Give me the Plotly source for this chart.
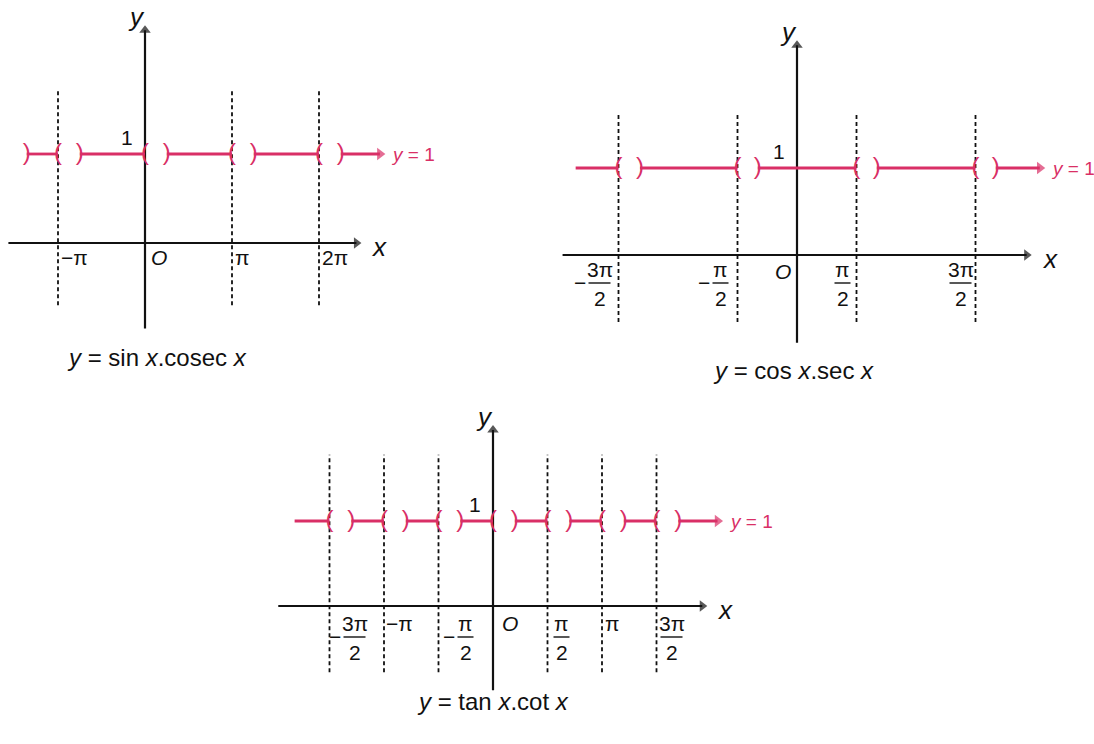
import plotly.graph_objects as go

W, H = 1094, 744
PINK = "#d92f66"
INK = "#111111"
FONT = "Liberation Sans"

# All x values are in multiples of pi.
# ---- y = sin x . cosec x
sin_axis_x = [-1.57, 2.43]
sin_axis_y = [-0.96, 2.39]
sin_asymptotes = [-1, 1, 2]
sin_dash_span = [-0.70, 1.74]
sin_seg_start = [-1.36, -0.75, 0.25, 1.25, 2.25]
sin_seg_end = [-1.0, 0.0, 1.0, 2.0, 2.70]
sin_tick_vals = [-1, 1, 2]
sin_tick_text = ["−π", "π", "2π"]

# ---- y = cos x . sec x
cos_axis_x = [-1.97, 1.93]
cos_axis_y = [-1.01, 2.41]
cos_asymptotes = [-1.5, -0.5, 0.5, 1.5]
cos_dash_span = [-0.77, 1.64]
cos_seg_start = [-1.86, -1.32, -0.33, 0.67, 1.67]
cos_seg_end = [-1.5, -0.5, 0.5, 1.5, 2.04]
cos_tick_vals = [-1.5, -0.5, 0.5, 1.5]
cos_tick_num = ["3π", "π", "π", "3π"]
cos_tick_neg = [True, True, False, False]

# ---- y = tan x . cot x
tan_axis_x = [-1.97, 1.92]
tan_axis_y = [-0.99, 2.07]
tan_asymptotes = [-1.5, -1, -0.5, 0.5, 1, 1.5]
tan_dash_span = [-0.78, 1.78]
tan_seg_start = [-1.82, -1.30, -0.80, -0.30, 0.20, 0.70, 1.20, 1.70]
tan_seg_end = [-1.5, -1.0, -0.5, 0.0, 0.5, 1.0, 1.5, 2.06]
tan_frac_vals = [-1.5, -0.5, 0.5, 1.5]
tan_frac_num = ["3π", "π", "π", "3π"]
tan_frac_neg = [True, True, False, False]
tan_plain_vals = [-1, 1]
tan_plain_text = ["−π", "π"]

curve_value = 1

# panel boxes in pixels (left, top, right, bottom), origin pixel and scale
panels = {
    1: dict(box=(0, 0, 450, 390), origin=(145, 243), sx=87, sy=89),
    2: dict(box=(545, 0, 1094, 390), origin=(797, 255), sx=119, sy=87),
    3: dict(box=(260, 395, 800, 744), origin=(493, 606), sx=109, sy=85),
}

fig = go.Figure()
layout_axes = {}
for n, p in panels.items():
    l, t, r, b = p["box"]
    ox, oy = p["origin"]
    xr = [(l - ox) / p["sx"], (r - ox) / p["sx"]]
    yr = [(oy - b) / p["sy"], (oy - t) / p["sy"]]
    xname = "xaxis" if n == 1 else f"xaxis{n}"
    yname = "yaxis" if n == 1 else f"yaxis{n}"
    layout_axes[xname] = dict(domain=[l / W, r / W], range=xr, visible=False,
                              fixedrange=True, anchor="y" if n == 1 else f"y{n}")
    layout_axes[yname] = dict(domain=[1 - b / H, 1 - t / H], range=yr, visible=False,
                              fixedrange=True, anchor="x" if n == 1 else f"x{n}")

annotations = []
shapes = []


def refs(n):
    return ("x", "y") if n == 1 else (f"x{n}", f"y{n}")


def head(color, size):
    return dict(symbol=["circle", "triangle-up"], size=[0, size], angleref="previous",
                color=color, line=dict(width=0))


def draw_panel(n, axis_x, axis_y, asym, dash_span, seg_start, seg_end, lead_bracket):
    xr, yr = refs(n)
    # coordinate axes with arrow heads
    fig.add_trace(go.Scatter(x=axis_x, y=[0, 0], mode="lines+markers", xaxis=xr, yaxis=yr,
                             line=dict(color=INK, width=2), marker=head(INK, 10),
                             hoverinfo="skip", cliponaxis=False))
    fig.add_trace(go.Scatter(x=[0, 0], y=axis_y, mode="lines+markers", xaxis=xr, yaxis=yr,
                             line=dict(color=INK, width=2.2), marker=head(INK, 10),
                             hoverinfo="skip", cliponaxis=False))
    # vertical dashed lines at the excluded points
    dx, dy = [], []
    for a in asym:
        dx += [a, a, None]
        dy += [dash_span[0], dash_span[1], None]
    fig.add_trace(go.Scatter(x=dx, y=dy, mode="lines", xaxis=xr, yaxis=yr,
                             line=dict(color=INK, width=1.8, dash="4px,3px"),
                             hoverinfo="skip"))
    # pieces of y = 1
    px, py = [], []
    for s, e in zip(seg_start[:-1], seg_end[:-1]):
        px += [s, e, None]
        py += [curve_value, curve_value, None]
    fig.add_trace(go.Scatter(x=px, y=py, mode="lines", xaxis=xr, yaxis=yr,
                             line=dict(color=PINK, width=2.8), hoverinfo="skip"))
    fig.add_trace(go.Scatter(x=[seg_start[-1], seg_end[-1]], y=[curve_value, curve_value],
                             mode="lines+markers", xaxis=xr, yaxis=yr,
                             line=dict(color=PINK, width=2.8), marker=head(PINK, 11),
                             hoverinfo="skip", cliponaxis=False))
    # open-interval brackets
    opens = seg_start if lead_bracket else seg_start[1:]
    closes = seg_end[:-1]
    bx = list(closes) + list(opens)
    bt = ["("] * len(closes) + [")"] * len(opens)
    fig.add_trace(go.Scatter(x=bx, y=[curve_value] * len(bx), mode="text", text=bt,
                             xaxis=xr, yaxis=yr, textposition="middle center",
                             textfont=dict(family=FONT, size=24, color=PINK),
                             hoverinfo="skip", cliponaxis=False))
    # labels: y = 1, 1, x, y
    annotations.append(dict(x=seg_end[-1], y=curve_value, xref=xr, yref=yr, text="<i>y</i> = 1",
                            showarrow=False, xanchor="left", xshift=9,
                            font=dict(family=FONT, size=19, color=PINK)))
    annotations.append(dict(x=0, y=curve_value, xref=xr, yref=yr, text="1",
                            showarrow=False, xanchor="right", yanchor="bottom",
                            xshift=-10, yshift=3, font=dict(family=FONT, size=21, color=INK)))
    annotations.append(dict(x=axis_x[1], y=0, xref=xr, yref=yr, text="<i>x</i>",
                            showarrow=False, xanchor="left", xshift=13, yshift=-4,
                            font=dict(family=FONT, size=26, color=INK)))
    annotations.append(dict(x=0, y=axis_y[1], xref=xr, yref=yr, text="<i>y</i>",
                            showarrow=False, yanchor="bottom", xshift=-9, yshift=-4,
                            font=dict(family=FONT, size=26, color=INK)))


def plain_tick(n, val, text, xshift, yshift):
    xr, yr = refs(n)
    annotations.append(dict(x=val, y=0, xref=xr, yref=yr, text=text, showarrow=False,
                            xshift=xshift, yshift=yshift,
                            font=dict(family=FONT, size=21, color=INK)))


def frac_tick(n, val, num, neg, xshift, top):
    xr, yr = refs(n)
    f = dict(family=FONT, size=21, color=INK)
    annotations.append(dict(x=val, y=0, xref=xr, yref=yr, text=num, showarrow=False,
                            xshift=xshift, yshift=top, font=f))
    annotations.append(dict(x=val, y=0, xref=xr, yref=yr, text="2", showarrow=False,
                            xshift=xshift, yshift=top - 29, font=f))
    half = 11 if len(num) > 1 else 8
    shapes.append(dict(type="line", xref=xr, yref=yr, xsizemode="pixel", ysizemode="pixel",
                       xanchor=val, yanchor=0, x0=xshift - half, x1=xshift + half,
                       y0=top - 14, y1=top - 14, line=dict(color=INK, width=1.4)))
    if neg:
        annotations.append(dict(x=val, y=0, xref=xr, yref=yr, text="−", showarrow=False,
                                xshift=xshift - half - 9, yshift=top - 13, font=f))


draw_panel(1, sin_axis_x, sin_axis_y, sin_asymptotes, sin_dash_span,
           sin_seg_start, sin_seg_end, True)
draw_panel(2, cos_axis_x, cos_axis_y, cos_asymptotes, cos_dash_span,
           cos_seg_start, cos_seg_end, False)
draw_panel(3, tan_axis_x, tan_axis_y, tan_asymptotes, tan_dash_span,
           tan_seg_start, tan_seg_end, False)

# tick labels
for v, t, xs in zip(sin_tick_vals, sin_tick_text, [16, 10, 16]):
    plain_tick(1, v, t, xs, -14)
plain_tick(1, 0, "<i>O</i>", 14, -14)

for v, t, neg, xs in zip(cos_tick_vals, cos_tick_num, cos_tick_neg, [-19, -17, -14, -15]):
    frac_tick(2, v, t, neg, xs, -14)
plain_tick(2, 0, "<i>O</i>", -14, -16)

for v, t, neg, xs in zip(tan_frac_vals, tan_frac_num, tan_frac_neg, [25, 27, 14, 15]):
    frac_tick(3, v, t, neg, xs, -17)
for v, t, xs in zip(tan_plain_vals, tan_plain_text, [15, 10]):
    plain_tick(3, v, t, xs, -17)
plain_tick(3, 0, "<i>O</i>", 17, -17)

# captions
captions = [
    ("<i>y</i> = sin <i>x</i>.cosec <i>x</i>", 157, 357),
    ("<i>y</i> = cos <i>x</i>.sec <i>x</i>", 793, 370),
    ("<i>y</i> = tan <i>x</i>.cot <i>x</i>", 493, 701),
]
for text, cx, cy in captions:
    annotations.append(dict(x=cx / W, y=1 - cy / H, xref="paper", yref="paper", text=text,
                            xanchor="center", yanchor="middle", showarrow=False,
                            font=dict(family=FONT, size=24, color=INK)))

fig.update_layout(width=W, height=H, margin=dict(l=0, r=0, t=0, b=0),
                  paper_bgcolor="white", plot_bgcolor="rgba(0,0,0,0)",
                  showlegend=False, annotations=annotations, shapes=shapes,
                  **layout_axes)

fig.write_html("out.html")
